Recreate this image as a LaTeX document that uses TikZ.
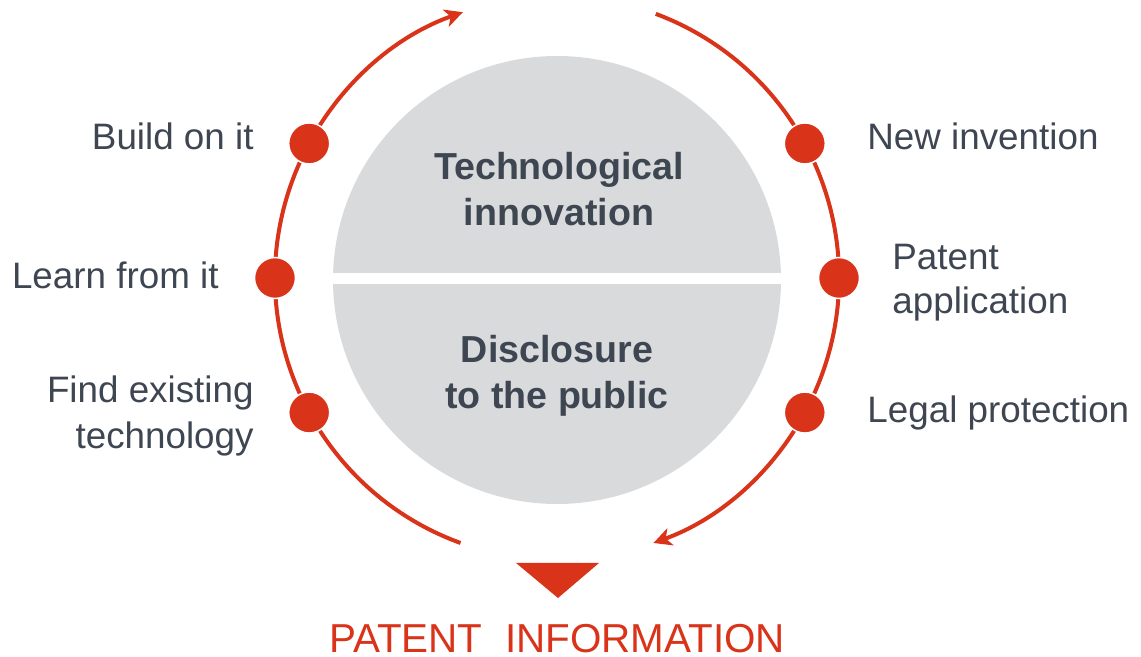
\documentclass[tikz,border=0pt]{standalone}
\usepackage{fontspec}
\setmainfont{Liberation Sans}
\usetikzlibrary{arrows.meta}
\definecolor{patred}{RGB}{217,51,26}
\definecolor{discgray}{RGB}{217,218,220}
\definecolor{labelgray}{RGB}{62,70,82}
\tikzset{
 ring/.style={patred,line width=2pt},
 ringtip/.style={-{Stealth[length=9pt,width=9pt,inset=2.5pt]}},
 stepdot/.style={circle,fill=patred,draw=white,line width=0.75pt,minimum size=20.5pt,inner sep=0pt},
 steptext/.style={text=labelgray,inner sep=0pt,font=\fontsize{18.4}{23}\selectfont},
 hubtext/.style={text=labelgray,inner sep=0pt,align=center,font=\bfseries\fontsize{18.8}{23}\selectfont}
}
\begin{document}
\begin{tikzpicture}[x=0.5pt,y=0.5pt]
 \useasboundingbox (0,0) rectangle (1141,-657);
 % gray disc, cut in two halves
 \begin{scope}
  \clip (300,-40) rectangle (820,-273);
  \fill[discgray] (557,-280) circle (224);
 \end{scope}
 \begin{scope}
  \clip (300,-285) rectangle (820,-520);
  \fill[discgray] (557,-280) circle (224);
 \end{scope}
 % the cycle
 \coordinate (hub) at (557,-278);
 \draw[ring,ringtip] (hub) ++(250:282) arc[start angle=250,end angle=109.5,radius=282];
 \draw[ring,ringtip] (hub) ++(69.5:282) arc[start angle=69.5,end angle=-70,radius=282];
 \node[stepdot] (dBuild) at ([shift={(151.5:282)}]hub) {};
 \node[stepdot] (dLearn) at ([shift={(180:282)}]hub) {};
 \node[stepdot] (dFind) at ([shift={(208.5:282)}]hub) {};
 \node[stepdot] (dNew) at ([shift={(28.5:282)}]hub) {};
 \node[stepdot] (dApply) at ([shift={(0:282)}]hub) {};
 \node[stepdot] (dProtect) at ([shift={(-28.5:282)}]hub) {};
 % step labels
 \node[steptext,anchor=base east] (tBuild) at (254,-150) {Build on it};
 \node[steptext,anchor=base east] (tLearn) at (219,-289) {Learn from it};
 \node[steptext,anchor=east,align=right] (tFind) at (254,-416) {Find existing\\technology};
 \node[steptext,anchor=base west] (tNew) at (867,-150) {New invention};
 \node[steptext,font=\fontsize{18.4}{22}\selectfont,anchor=west,align=left] (tApply) at (892,-283) {Patent\\application};
 \node[steptext,anchor=base west] (tProtect) at (867,-423) {Legal protection};
 % inside the disc
 \node[hubtext] (innov) at (559,-189) {Technological\\innovation};
 \node[hubtext] (disclose) at (557,-376) {Disclosure\\to the public};
 % outcome
 \fill[patred] (516,-563) -- (599,-563) -- (558,-598) -- cycle;
 \node[text=patred,inner sep=0pt,anchor=base,font=\fontsize{20.2}{22}\selectfont] (info) at (557,-652) {PATENT\ \ INFORMATION};
\end{tikzpicture}
\end{document}
